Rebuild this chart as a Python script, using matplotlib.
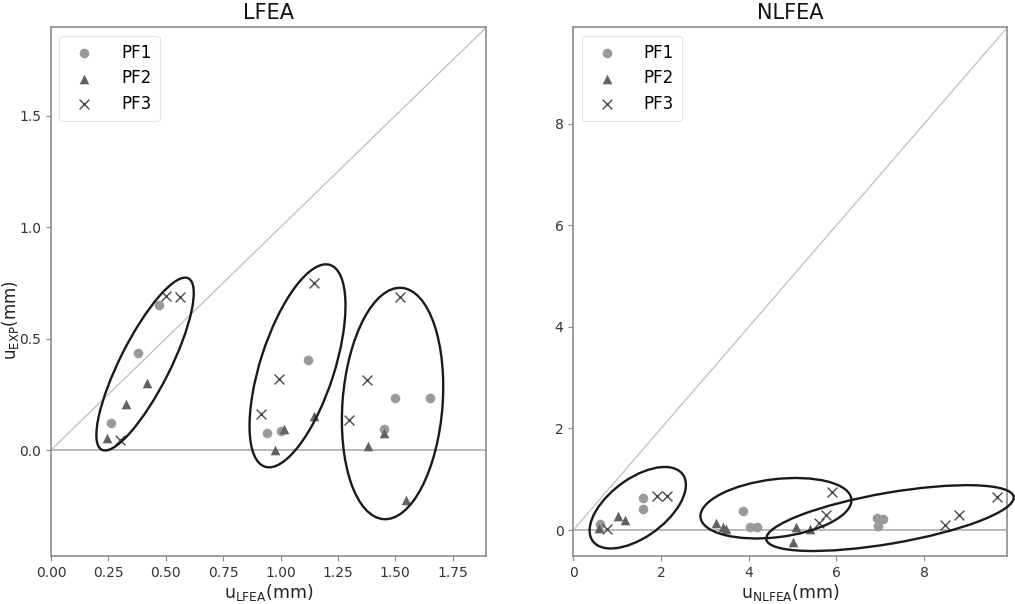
import numpy as np
import matplotlib
matplotlib.use("Agg")
import matplotlib.pyplot as plt
import matplotlib.ticker as mticker
from matplotlib.patches import Ellipse

plt.rcParams["font.family"] = ["DejaVu Sans"]
plt.rcParams["mathtext.default"] = "regular"

# ---- LFEA predictions vs. measured displacement (mm) ----
lfea_pf1_x = [0.26, 0.38, 0.47, 0.94, 1.00, 1.12, 1.45, 1.50, 1.65]
lfea_pf1_y = [0.12, 0.435, 0.65, 0.075, 0.085, 0.405, 0.095, 0.235, 0.235]
lfea_pf2_x = [0.245, 0.325, 0.42, 0.975, 1.015, 1.145, 1.38, 1.45, 1.545]
lfea_pf2_y = [0.055, 0.205, 0.30, 0.0, 0.095, 0.155, 0.02, 0.075, -0.225]
lfea_pf3_x = [0.30, 0.50, 0.56, 0.915, 0.995, 1.145, 1.30, 1.375, 1.52]
lfea_pf3_y = [0.045, 0.69, 0.685, 0.16, 0.32, 0.75, 0.135, 0.315, 0.685]

# ---- NLFEA predictions vs. measured displacement (mm) ----
nlfea_pf1_x = [0.60, 1.59, 1.59, 3.88, 4.03, 4.18, 6.92, 7.06, 6.94]
nlfea_pf1_y = [0.12, 0.63, 0.42, 0.37, 0.06, 0.06, 0.24, 0.22, 0.08]
nlfea_pf2_x = [0.59, 1.03, 1.17, 3.26, 3.42, 3.48, 5.01, 5.08, 5.40]
nlfea_pf2_y = [0.04, 0.28, 0.19, 0.14, 0.07, 0.02, -0.23, 0.06, 0.02]
nlfea_pf3_x = [0.78, 1.90, 2.13, 5.60, 5.76, 5.89, 8.47, 8.79, 9.66]
nlfea_pf3_y = [0.03, 0.67, 0.67, 0.14, 0.30, 0.74, 0.10, 0.29, 0.66]

series_labels = ["PF1", "PF2", "PF3"]

# group outlines: centre (data), semi-axes (pixels), tilt (deg, on screen)
lfea_groups = [((0.41, 0.386), 96, 25, 63.2),
               ((1.074, 0.378), 106, 37, 72.1),
               ((1.488, 0.209), 116, 50, 85.5)]
nlfea_groups = [((1.47, 0.44), 56, 29, 36.7),
                ((4.62, 0.43), 76, 29, 7.0),
                ((7.22, 0.236), 125.5, 25.4, 9.8)]

styles = [dict(marker="o", color="#9a9a9a", s=48, linewidths=0),
          dict(marker="^", color="#626262", s=48, linewidths=0),
          dict(marker="x", color="#4a4a4a", s=50, linewidths=1.0)]


def outline(ax, centre, a_px, b_px, ang):
    t0 = ax.transData.transform((0, 0))
    sx = ax.transData.transform((1, 0))[0] - t0[0]
    sy = ax.transData.transform((0, 1))[1] - t0[1]
    th = np.deg2rad(ang)
    rot = np.array([[np.cos(th), -np.sin(th)], [np.sin(th), np.cos(th)]])
    m = np.diag([1 / sx, 1 / sy]) @ rot @ np.diag([a_px, b_px])
    u, s, _ = np.linalg.svd(m)
    angle = np.degrees(np.arctan2(u[1, 0], u[0, 0]))
    ax.add_patch(Ellipse(centre, 2 * s[0], 2 * s[1], angle=angle,
                         fill=False, edgecolor="#1a1a1a", lw=1.7,
                         clip_on=False, zorder=4))


def panel(ax, title, xs, ys, xlim, ylim, groups, xticks, yticks, xlabel, ylabel=None):
    ax.set_xlim(*xlim)
    ax.set_ylim(*ylim)
    ax.axhline(0, color="#b4b4b4", lw=1.3, zorder=1)
    top = max(xlim[1], ylim[1])
    ax.plot([0, top], [0, top], color="#c4c4c4", lw=1.0, zorder=1)
    for x, y, lab, st in zip(xs, ys, series_labels, styles):
        ax.scatter(x, y, label=lab, zorder=3, **st)
    for g in groups:
        outline(ax, *g)
    ax.set_xticks(xticks)
    ax.set_yticks(yticks)
    ax.set_title(title, fontsize=15, color="#111111")
    ax.set_xlabel(xlabel, fontsize=12.5, color="#222222", labelpad=2)
    if ylabel:
        ax.set_ylabel(ylabel, fontsize=12, color="#222222")
        ax.yaxis.set_label_coords(-0.07, 0.445)
    for sp in ax.spines.values():
        sp.set_color("#8c8c8c")
        sp.set_linewidth(1.2)
    ax.tick_params(colors="#8c8c8c", labelcolor="#333333", labelsize=10)
    leg = ax.legend(loc="upper left", fontsize=12, frameon=True,
                    borderpad=0.5, handletextpad=1.2, labelspacing=0.45)
    leg.get_frame().set_edgecolor("#dddddd")
    leg.get_frame().set_linewidth(0.8)


fig = plt.figure(figsize=(10.15, 6.04), dpi=100)
ax1 = fig.add_axes([0.0502, 0.0795, 0.4286, 0.8755])
ax2 = fig.add_axes([0.5648, 0.0795, 0.4270, 0.8755])

panel(ax1, "LFEA",
      [lfea_pf1_x, lfea_pf2_x, lfea_pf3_x],
      [lfea_pf1_y, lfea_pf2_y, lfea_pf3_y],
      (0, 1.895), (-0.475, 1.897), lfea_groups,
      [0, 0.25, 0.5, 0.75, 1.0, 1.25, 1.5, 1.75], [0.0, 0.5, 1.0, 1.5],
      "u$_{LFEA}$(mm)", "u$_{EXP}$(mm)")
ax1.xaxis.set_major_formatter(mticker.FormatStrFormatter("%.2f"))
ax1.yaxis.set_major_formatter(mticker.FormatStrFormatter("%.1f"))

panel(ax2, "NLFEA",
      [nlfea_pf1_x, nlfea_pf2_x, nlfea_pf3_x],
      [nlfea_pf1_y, nlfea_pf2_y, nlfea_pf3_y],
      (0, 9.88), (-0.51, 9.9), nlfea_groups,
      [0, 2, 4, 6, 8], [0, 2, 4, 6, 8],
      "u$_{NLFEA}$(mm)")

fig.savefig("out.png", dpi=100)
